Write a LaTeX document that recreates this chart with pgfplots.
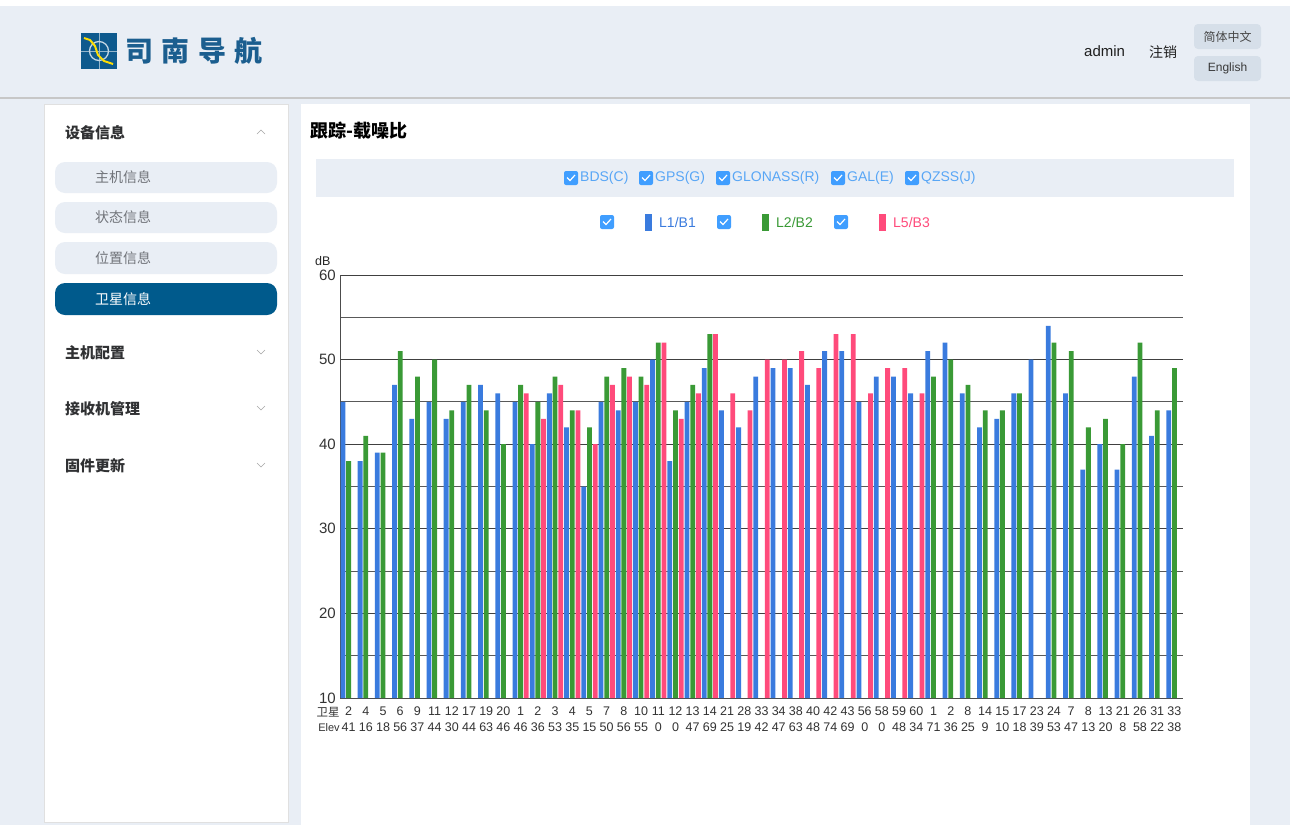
\documentclass[border=0pt]{standalone}
\usepackage{pgfplots}
\pgfplotsset{compat=1.18}
\usepackage{fontspec}
\setmainfont{Liberation Sans}
\newfontfamily\cjk{Noto Sans CJK SC}
\definecolor{pagebg}{HTML}{E9EEF5}
\definecolor{btn}{HTML}{D6DFE9}
\definecolor{l1}{HTML}{3A7BDE}
\definecolor{l2}{HTML}{3A9A36}
\definecolor{l5}{HTML}{FF4B7B}
\definecolor{cbblue}{HTML}{409EFF}
\definecolor{cbtext}{HTML}{58A6F5}
\definecolor{navy}{HTML}{005A8C}
\definecolor{logoblue}{HTML}{0E5A8E}
\definecolor{logotext}{HTML}{1B5E8F}
\definecolor{menutext}{HTML}{303133}
\definecolor{subtext}{HTML}{707379}
\newcommand{\cb}[2]{%
  \fill[cbblue,rounded corners=2pt] (#1-7,#2+7) rectangle (#1+7,#2-7);
  \draw[white,line width=1.2pt] (#1-4,#2+0.5) -- (#1-1,#2-2.5) -- (#1+4,#2+3);}
\begin{document}
\begin{tikzpicture}[x=1pt,y=1pt]
\path[use as bounding box] (0,0) rectangle (1290,-825);
\fill[pagebg] (0,0) rectangle (1290,-825);
\fill[white] (0,0) rectangle (1290,-6);
\fill[black!22] (0,-97) rectangle (1290,-99);
% logo
\fill[logoblue] (81,-33) rectangle (117,-69);
\draw[white!55!logoblue,line width=0.9pt] (99,-33) -- (99,-69) (81,-51) -- (117,-51);
\draw[white!75!logoblue,line width=1.3pt] (99,-51) circle (9.5);
\draw[yellow!80!orange,line width=2pt,line join=round] (84,-38) -- (90,-40) -- (95,-46) -- (98,-55) -- (104,-61) -- (113,-64);
\node[anchor=west,text=logotext,font=\cjk\bfseries\fontsize{28}{30}\selectfont,inner sep=0pt] at (125,-51) {司\hspace{8.5pt}南\hspace{8.5pt}导\hspace{8.5pt}航};
% header right
\node[anchor=west,inner sep=0pt,font=\fontsize{15}{18}\selectfont,text=black!88] at (1084,-51) {admin};
\node[anchor=west,inner sep=0pt,font=\cjk\fontsize{14}{17}\selectfont,text=black!88] at (1149,-52) {注销};
\fill[btn,rounded corners=4pt] (1194,-24) rectangle (1261,-49);
\node[font=\cjk\fontsize{12}{14}\selectfont,text=black!72] at (1227.5,-36.5) {简体中文};
\fill[btn,rounded corners=4pt] (1194,-56) rectangle (1261,-81);
\node[font=\fontsize{12}{14}\selectfont,text=black!78] at (1227.5,-68.5) {English};
% sidebar
\fill[white] (44,-104) rectangle (288,-822);
\draw[black!12] (44,-104) rectangle (288,-822);
\node[anchor=west,inner sep=0pt,font=\cjk\bfseries\fontsize{15}{18}\selectfont,text=menutext] at (65,-133) {设备信息};
\draw[black!35,line width=0.6pt] (257,-134) -- (261,-130) -- (265,-134);
\fill[pagebg,rounded corners=10pt] (55,-162) rectangle (277,-193);
\node[anchor=west,inner sep=0pt,font=\cjk\fontsize{14}{17}\selectfont,text=subtext] at (95,-177.5) {主机信息};
\fill[pagebg,rounded corners=10pt] (55,-202) rectangle (277,-233);
\node[anchor=west,inner sep=0pt,font=\cjk\fontsize{14}{17}\selectfont,text=subtext] at (95,-217.5) {状态信息};
\fill[pagebg,rounded corners=10pt] (55,-242) rectangle (277,-274);
\node[anchor=west,inner sep=0pt,font=\cjk\fontsize{14}{17}\selectfont,text=subtext] at (95,-258) {位置信息};
\fill[navy,rounded corners=10pt] (55,-283) rectangle (277,-315);
\node[anchor=west,inner sep=0pt,font=\cjk\fontsize{14}{17}\selectfont,text=white] at (95,-299) {卫星信息};
\node[anchor=west,inner sep=0pt,font=\cjk\bfseries\fontsize{15}{18}\selectfont,text=menutext] at (65,-353) {主机配置};
\draw[black!35,line width=0.6pt] (257,-350) -- (261,-354) -- (265,-350);
\node[anchor=west,inner sep=0pt,font=\cjk\bfseries\fontsize{15}{18}\selectfont,text=menutext] at (65,-409) {接收机管理};
\draw[black!35,line width=0.6pt] (257,-406) -- (261,-410) -- (265,-406);
\node[anchor=west,inner sep=0pt,font=\cjk\bfseries\fontsize{15}{18}\selectfont,text=menutext] at (65,-466) {固件更新};
\draw[black!35,line width=0.6pt] (257,-463) -- (261,-467) -- (265,-463);
% content panel
\fill[white] (301,-104) rectangle (1250,-825);
\node[anchor=west,inner sep=0pt,font=\cjk\bfseries\fontsize{18}{20}\selectfont] at (310,-131) {跟踪-载噪比};
\fill[pagebg] (316,-159) rectangle (1234,-197);
\cb{571}{-178}
\node[anchor=west,inner sep=0pt,font=\fontsize{14}{16}\selectfont,text=cbtext] at (580,-178) {BDS(C)};
\cb{646}{-178}
\node[anchor=west,inner sep=0pt,font=\fontsize{14}{16}\selectfont,text=cbtext] at (655,-178) {GPS(G)};
\cb{723}{-178}
\node[anchor=west,inner sep=0pt,font=\fontsize{14}{16}\selectfont,text=cbtext] at (732,-178) {GLONASS(R)};
\cb{838}{-178}
\node[anchor=west,inner sep=0pt,font=\fontsize{14}{16}\selectfont,text=cbtext] at (847,-178) {GAL(E)};
\cb{912}{-178}
\node[anchor=west,inner sep=0pt,font=\fontsize{14}{16}\selectfont,text=cbtext] at (921,-178) {QZSS(J)};
% legend row
\cb{607}{-222}
\fill[l1] (645,-214) rectangle (652,-231);
\node[anchor=west,inner sep=0pt,font=\fontsize{14}{16}\selectfont,text=l1] at (659,-222) {L1/B1};
\cb{724}{-222}
\fill[l2] (762,-214) rectangle (769,-231);
\node[anchor=west,inner sep=0pt,font=\fontsize{14}{16}\selectfont,text=l2] at (776,-222) {L2/B2};
\cb{841}{-222}
\fill[l5] (879,-214) rectangle (886,-231);
\node[anchor=west,inner sep=0pt,font=\fontsize{14}{16}\selectfont,text=l5] at (893,-222) {L5/B3};
% chart
\node[anchor=west,inner sep=0pt,font=\fontsize{12.5}{14}\selectfont,text=black!85] at (315,-261) {dB};
\node[inner sep=0pt,font=\cjk\fontsize{11.5}{13}\selectfont,text=black!80] at (328,-712) {卫星};
\node[inner sep=0pt,font=\fontsize{11}{13}\selectfont,text=black!80] at (329,-728) {Elev};
\coordinate (axorig) at (340,-698);
\begin{axis}[
  at={(axorig)}, anchor=south west,
  scale only axis, width=843pt, height=423pt,
  xmin=0.5, xmax=49.5, ymin=10, ymax=60,
  ytick={10,20,...,60}, minor ytick={15,25,...,55},
  ymajorgrids, yminorgrids,
  major grid style={black!75,line width=1pt},
  minor grid style={black!65,line width=1pt},
  axis x line*=bottom, axis y line*=left,
  axis line style={-,black!70,line width=1pt},
  major tick length=0pt, minor tick length=0pt,
  xtick={1,...,49},
  xticklabels={{2\\41},{4\\16},{5\\18},{6\\56},{9\\37},{11\\44},{12\\30},{17\\44},{19\\63},{20\\46},
    {1\\46},{2\\36},{3\\53},{4\\35},{5\\15},{7\\50},{8\\56},{10\\55},{11\\0},{12\\0},
    {13\\47},{14\\69},{21\\25},{28\\19},{33\\42},{34\\47},{38\\63},{40\\48},{42\\74},{43\\69},
    {56\\0},{58\\0},{59\\48},{60\\34},{1\\71},{2\\36},{8\\25},{14\\9},{15\\10},{17\\18},
    {23\\39},{24\\53},{7\\47},{8\\13},{13\\20},{21\\8},{26\\58},{31\\22},{33\\38}},
  xticklabel style={font=\fontsize{12.5}{16}\selectfont,text=black!80,align=center,inner sep=1pt,yshift=-8pt},
  yticklabel style={font=\fontsize{15}{17}\selectfont,text=black!80,inner sep=1pt,xshift=-3pt},
  /pgf/number format/assume math mode=true,
]
\addplot[ybar,bar width=4.8pt,bar shift=-5.7pt,fill=l1,draw=none] coordinates {
(1,45)(2,38)(3,39)(4,47)(5,43)(6,45)(7,43)(8,45)(9,47)(10,46)
(11,45)(12,40)(13,46)(14,42)(15,35)(16,45)(17,44)(18,45)(19,50)(20,38)
(21,45)(22,49)(23,44)(24,42)(25,48)(26,49)(27,49)(28,47)(29,51)(30,51)
(31,45)(32,48)(33,48)(34,46)(35,51)(36,52)(37,46)(38,42)(39,43)(40,46)
(41,50)(42,54)(43,46)(44,37)(45,40)(46,37)(47,48)(48,41)(49,44)};
\addplot[ybar,bar width=4.8pt,bar shift=0pt,fill=l2,draw=none] coordinates {
(1,38)(2,41)(3,39)(4,51)(5,48)(6,50)(7,44)(8,47)(9,44)(10,40)
(11,47)(12,45)(13,48)(14,44)(15,42)(16,48)(17,49)(18,48)(19,52)(20,44)
(21,47)(22,53)
(35,48)(36,50)(37,47)(38,44)(39,44)(40,46)
(42,52)(43,51)(44,42)(45,43)(46,40)(47,52)(48,44)(49,49)};
\addplot[ybar,bar width=4.8pt,bar shift=5.7pt,fill=l5,draw=none] coordinates {
(11,46)(12,43)(13,47)(14,44)(15,40)(16,47)(17,48)(18,47)(19,52)(20,43)
(21,46)(22,53)(23,46)(24,44)(25,50)(26,50)(27,51)(28,49)(29,53)(30,53)
(31,46)(32,49)(33,49)(34,46)};
\end{axis}
\end{tikzpicture}
\end{document}
